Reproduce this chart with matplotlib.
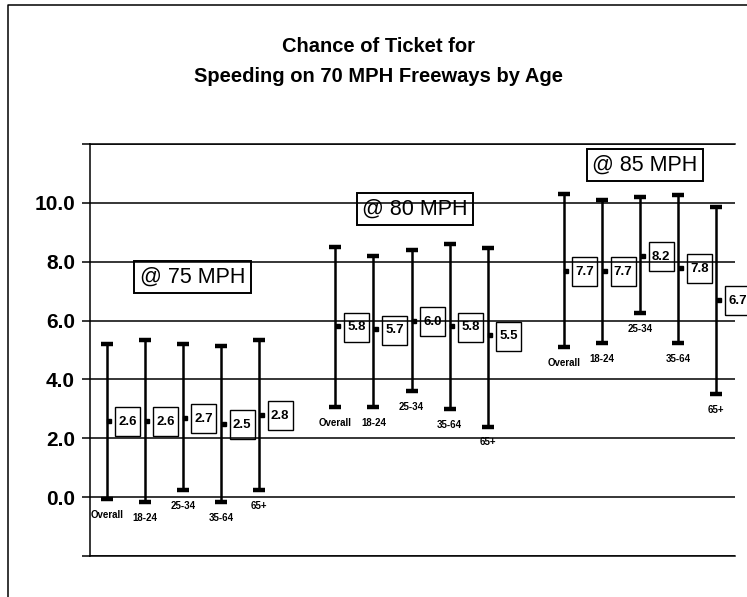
import matplotlib
matplotlib.use('Agg')
import matplotlib.pyplot as plt
from matplotlib.patches import Rectangle
from matplotlib.lines import Line2D
from matplotlib.transforms import ScaledTranslation, offset_copy
from matplotlib import font_manager

# ---------------- data ----------------
speed_labels = ['@ 75 MPH', '@ 80 MPH', '@ 85 MPH']
age_labels = ['Overall', '18-24', '25-34', '35-64', '65+']

mean_75 = [2.6, 2.6, 2.7, 2.5, 2.8]
low_75 = [-0.05, -0.15, 0.25, -0.15, 0.25]
high_75 = [5.2, 5.35, 5.2, 5.15, 5.35]

mean_80 = [5.8, 5.7, 6.0, 5.8, 5.5]
low_80 = [3.05, 3.05, 3.6, 3.0, 2.4]
high_80 = [8.5, 8.2, 8.4, 8.6, 8.45]

mean_85 = [7.7, 7.7, 8.2, 7.8, 6.7]
low_85 = [5.1, 5.25, 6.25, 5.25, 3.5]
high_85 = [10.3, 10.1, 10.2, 10.25, 9.85]

y_ticks = [-2, 0, 2, 4, 6, 8, 10, 12]
y_tick_labels = ['', '0.0', '2.0', '4.0', '6.0', '8.0', '10.0', '']

title_line1 = 'Chance of Ticket for'
title_line2 = 'Speeding on 70 MPH Freeways by Age'


def pick_font(cands):
    for c in cands:
        try:
            font_manager.findfont(font_manager.FontProperties(family=c), fallback_to_default=False)
            return c
        except Exception:
            pass
    return 'DejaVu Sans'


main_font = pick_font(['Liberation Sans', 'Arial', 'DejaVu Sans'])
plt.rcParams['font.family'] = [main_font, 'DejaVu Sans']

W, H, DPI = 747, 597, 100
fig = plt.figure(figsize=(W / DPI, H / DPI), dpi=DPI)
ax = fig.add_axes([90 / W, 1 - 556 / H, (735 - 90) / W, (556 - 144) / H])

ax.set_xlim(-0.44, 16.49)
ax.set_ylim(-2, 12)

groups = [
    (mean_75, low_75, high_75),
    (mean_80, low_80, high_80),
    (mean_85, low_85, high_85),
]

# grid & axes
ax.set_yticks(y_ticks)
ax.set_yticklabels(y_tick_labels, fontsize=15, fontweight='bold')
ax.set_xticks([])
ax.tick_params(axis='y', length=5.8, width=1.1, pad=5, color='black')
ax.grid(axis='y', color='black', lw=1.1)
ax.set_axisbelow(True)
for side in ['left', 'top', 'bottom']:
    ax.spines[side].set_linewidth(1.1)
    ax.spines[side].set_color('black')
ax.spines['right'].set_visible(False)

mean_trans = offset_copy(ax.transData, fig=fig, x=2.5, y=0, units='dots')

for g, (means, lows, highs) in enumerate(groups):
    xs = [g * 6 + i for i in range(len(means))]
    ax.vlines(xs, lows, highs, color='black', lw=1.8, zorder=3)
    ax.plot(xs, lows, ls='none', marker='_', ms=8, mew=3.2, color='black', zorder=3)
    ax.plot(xs, highs, ls='none', marker='_', ms=8, mew=3.2, color='black', zorder=3)
    ax.plot(xs, means, ls='none', marker='s', ms=3, color='black', zorder=4,
            transform=mean_trans)
    for x, m, lo, lab in zip(xs, means, lows, age_labels):
        t = fig.dpi_scale_trans + ScaledTranslation(x, m, ax.transData)
        bw, bh, dx = 0.25, 0.29, 0.21
        ax.add_patch(Rectangle((dx - bw / 2, -bh / 2 - 0.01), bw, bh, transform=t,
                               fc='none', ec='black', lw=1.0, clip_on=False, zorder=5))
        ax.text(dx, -0.01, f'{m:.1f}', transform=t, ha='center', va='center',
                fontsize=9.5, fontweight='bold', clip_on=False, zorder=6)
        ax.annotate(lab, xy=(x, lo), xytext=(0, -11.5), textcoords='offset points',
                    ha='center', va='center', fontsize=7, fontweight='bold',
                    annotation_clip=False)

# speed group captions
speed_pos = [(2.25, 7.48), (8.09, 9.78), (14.12, 11.29)]
for (sx, sy), s in zip(speed_pos, speed_labels):
    ax.text(sx, sy, s, ha='center', va='center', fontsize=15.5, zorder=6,
            bbox=dict(boxstyle='square,pad=0.25', fc='none', ec='black', lw=1.4))

# title
fig.text(379 / W, 1 - 46 / H, title_line1, ha='center', va='center',
         fontsize=14.5, fontweight='bold')
fig.text(379 / W, 1 - 77 / H, title_line2, ha='center', va='center',
         fontsize=14.5, fontweight='bold')

# page border (left and top)
fig.add_artist(Line2D([8 / W, 8 / W, 1.0], [0.0, 1 - 5 / H, 1 - 5 / H],
                      transform=fig.transFigure, color='black', lw=1.1))

fig.savefig('out.png', dpi=DPI)
